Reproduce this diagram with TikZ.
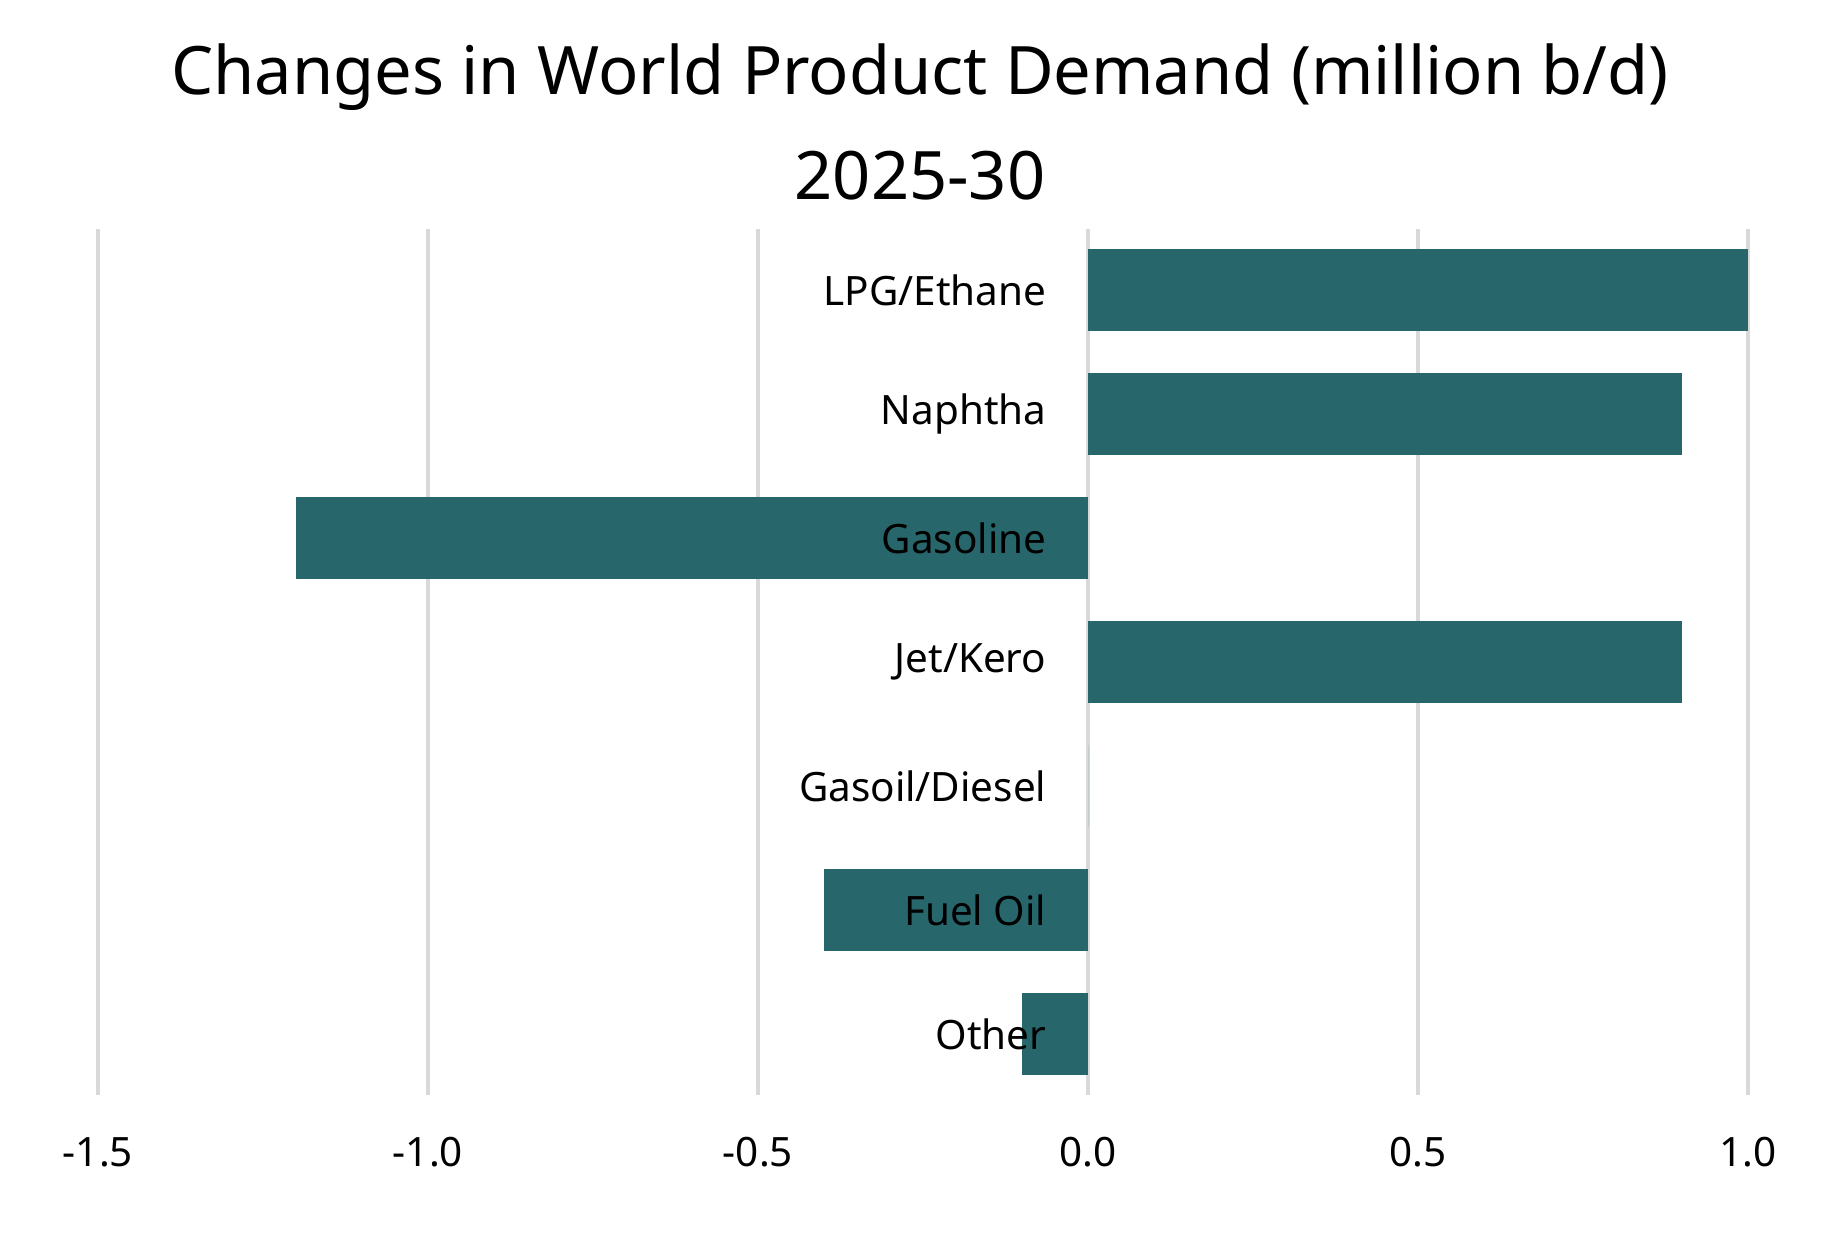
\documentclass[tikz,border=0pt]{standalone}
\usepackage{fontspec}
\setmainfont{Noto Sans}
\definecolor{barteal}{HTML}{27666B}
\definecolor{gridgray}{HTML}{D9D9D9}
\tikzset{
  gridline/.style={draw=gridgray, line width=0.9pt},
  bar/.style={fill=barteal, draw=none},
  catlabel/.style={anchor=east, inner sep=0mm, font=\fontsize{11.5}{13}\selectfont},
  ticklabel/.style={inner sep=0mm, font=\fontsize{11.5}{13}\selectfont}
}
\begin{document}
\begin{tikzpicture}[x=0.01cm, y=-0.01cm]
 \useasboundingbox (0,0) rectangle (1840,1248);
 \node[align=center, font=\fontsize{19}{30}\selectfont] (title) at (920,122)
   {Changes in World Product Demand (million b/d)\\2025-30};

 % grid and ticks, 660 px per unit, zero at 1088
 \foreach \v/\l in {-1.5/-1.5, -1/-1.0, -0.5/-0.5, 0/0.0, 0.5/0.5, 1/1.0} {
   \draw[gridline] ({1088+660*\v},229) -- ({1088+660*\v},1095);
   \node[ticklabel] (tick\l) at ({1088+660*\v},1152) {\l};
 }

 % bars
 \foreach \i/\v/\n in {0/1.0/{LPG/Ethane}, 1/0.9/Naphtha, 2/-1.2/Gasoline,
     3/0.9/{Jet/Kero}, 4/0/{Gasoil/Diesel}, 5/-0.4/Fuel Oil, 6/-0.1/Other} {
   \fill[bar] (1088,{290+124*\i-41}) rectangle ({1088+660*\v},{290+124*\i+41});
   \node[catlabel] (cat\i) at (1047,{290+124*\i}) {\n};
 }
\end{tikzpicture}
\end{document}
